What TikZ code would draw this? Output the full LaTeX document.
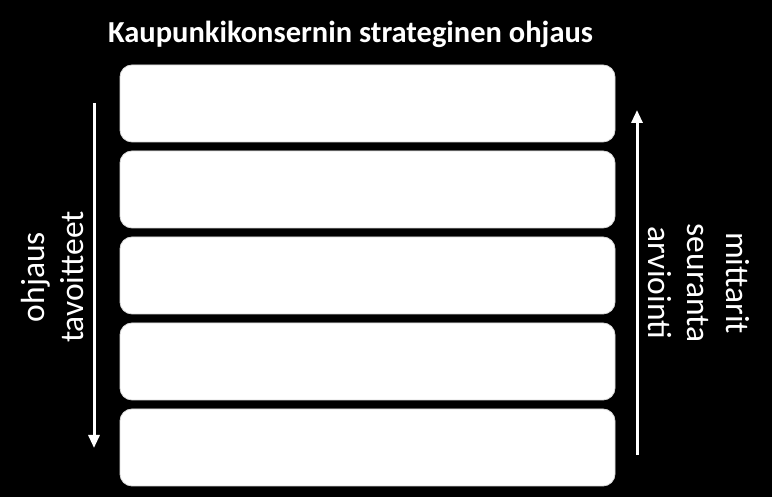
\documentclass[tikz,border=0pt]{standalone}
\usepackage{fontspec}
\setmainfont{Carlito}
\usetikzlibrary{arrows.meta}
\begin{document}
\begin{tikzpicture}[x=1pt,y=1pt,
  panel/.style={draw=black!15,line width=0.8pt,fill=white,rounded corners=12pt,minimum width=495pt,minimum height=77pt,inner sep=0pt},
  flow/.style={draw=white,line width=3pt,-{Triangle[width=11pt,length=13pt]}},
  sidetext/.style={text=white,align=center,font=\fontsize{33.5}{39}\selectfont,inner sep=0pt}]
\fill[black] (0,0) rectangle (772,497);
\useasboundingbox (0,0) rectangle (772,497);
\node[text=white,font=\fontsize{30.5}{34}\selectfont\bfseries] (title) at (350.5,463) {Kaupunkikonsernin strateginen ohjaus};
\node[panel] (b1) at (367.5,393.5) {};
\node[panel] (b2) at (367.5,307.5) {};
\node[panel] (b3) at (367.5,221.5) {};
\node[panel] (b4) at (367.5,135.5) {};
\node[panel] (b5) at (367.5,49.5) {};
\coordinate (lt) at (94,394);
\coordinate (lb) at (94,49);
\coordinate (rb) at (637,42);
\coordinate (rt) at (637,387);
\draw[flow] (lt) -- (lb);
\draw[flow] (rb) -- (rt);
\node[sidetext,rotate=90] (ltext) at (52,220) {ohjaus\\tavoitteet};
\node[sidetext,rotate=-90] (rtext) at (699,214) {mittarit\\seuranta\\arviointi};
\end{tikzpicture}
\end{document}
